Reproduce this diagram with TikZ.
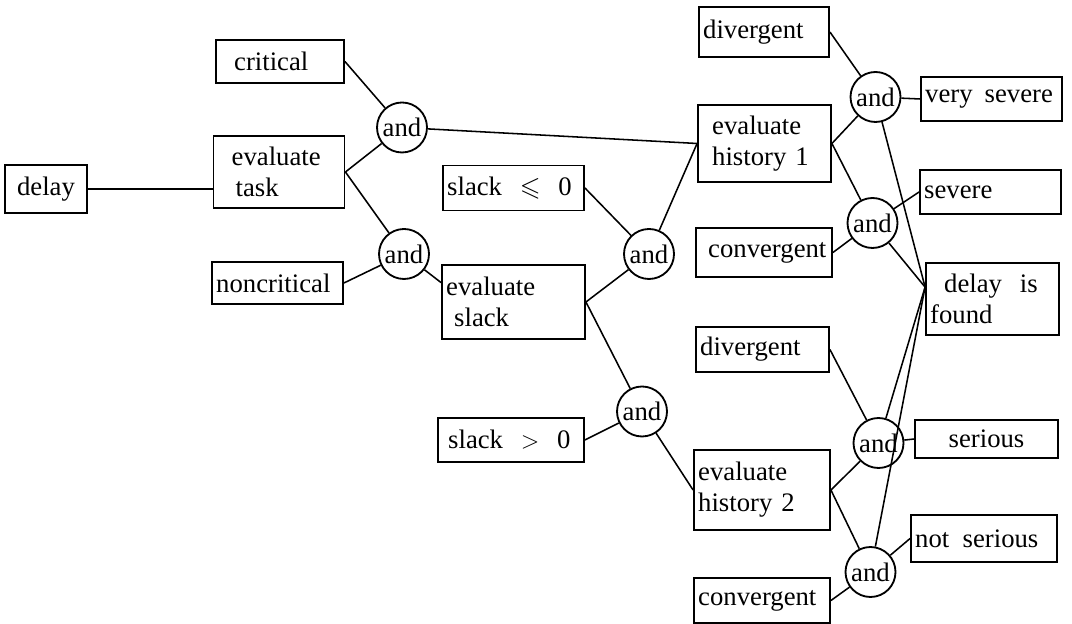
\documentclass[tikz,border=0pt]{standalone}
\usepackage{amssymb}
\usepackage{fontspec}
\setmainfont{Liberation Serif}

\begin{document}
\begin{tikzpicture}[
    font=\fontsize{19}{22}\selectfont,
    box/.style={draw, line width=1.3pt, align=left, inner xsep=3pt, inner ysep=1pt, text width=#1},
    gate/.style={circle, draw, line width=1.3pt, minimum size=1.25cm, inner sep=0pt},
    conn/.style={line width=1.1pt}
]
    \useasboundingbox (0,0) rectangle (26.8,15.6);

    % Task level
    \node[box=1.84cm, align=center, minimum height=1.2cm] (delay) at (1.15,10.875) {delay};
    \node[box=2.99cm, minimum height=1.075cm] (critical) at (7.0,14.0625) {\hspace*{.35cm}critical};
    \node[box=3.065cm, minimum height=1.8cm] (task) at (6.975,11.3) {\hspace*{.35cm}evaluate\\\hspace*{.45cm}task};
    \node[box=3.065cm, minimum height=1.05cm] (noncrit) at (6.9375,8.525) {noncritical};
    \node[gate] (and1) at (10.05,12.4125) {and};
    \node[gate] (and2) at (10.1,9.25) {and};

    % Slack level
    \node[box=3.315cm, minimum height=1.125cm] (slackle) at (12.8375,10.9) {slack \ $\leqslant$ \ 0};
    \node[box=3.365cm, minimum height=1.85cm] (slack) at (12.8375,8.05) {evaluate\\\hspace*{.2cm}slack};
    \node[box=3.44cm, minimum height=1.1cm] (slackgt) at (12.775,4.6) {\hspace*{.15cm}slack \ $>$ \ 0};
    \node[gate] (and3) at (16.225,9.25) {and};
    \node[gate] (and4) at (16.05,5.3125) {and};

    % History level
    \node[box=3.04cm, minimum height=1.25cm] (div1) at (19.1,14.8) {divergent};
    \node[box=3.115cm, minimum height=1.925cm] (hist1) at (19.1125,12.0125) {\hspace*{.25cm}evaluate\\\hspace*{.25cm}history 1};
    \node[box=3.19cm, minimum height=1.225cm] (conv1) at (19.1,9.2875) {\hspace*{.2cm}convergent};
    \node[box=3.115cm, minimum height=1.125cm] (div2) at (19.0625,6.8625) {divergent};
    \node[box=3.19cm, minimum height=2.0cm] (hist2) at (19.05,3.35) {evaluate\\history 2};
    \node[box=3.19cm, minimum height=1.125cm] (conv2) at (19.05,0.5875) {convergent};
    \node[gate] (and5) at (21.8875,13.175) {and};
    \node[gate] (and6) at (21.8125,10.025) {and};
    \node[gate] (and7) at (21.9625,4.525) {and};
    \node[gate] (and8) at (21.7625,1.3) {and};

    % Results
    \node[box=3.315cm, minimum height=1.1cm] (vsevere) at (24.7875,13.125) {\mbox{very\hspace{.45em}severe}};
    \node[box=3.315cm, minimum height=1.1cm] (severe) at (24.7625,10.8) {severe};
    \node[box=3.115cm, minimum height=1.8cm] (found) at (24.8125,8.125) {\hspace*{.35cm}delay \ is\\found};
    \node[box=3.365cm, align=center, minimum height=0.95cm] (serious) at (24.6625,4.625) {serious};
    \node[box=3.44cm, minimum height=1.175cm] (notser) at (24.6,2.1375) {\mbox{not\hspace{.5em}serious}};

    % Connections
    \draw[conn] (delay.east) -- (delay.east -| task.west);
    \draw[conn] (and2) -- (slack.165);
    \foreach \a/\b in {critical.east/and1, task.east/and1, task.east/and2, noncrit.east/and2,
                       and1/hist1.west, slackle.east/and3, slack.east/and3, slack.east/and4,
                       slackgt.east/and4, and3/hist1.west, and4/hist2.west,
                       div1.east/and5, hist1.east/and5, hist1.east/and6, conv1.east/and6,
                       div2.east/and7, hist2.east/and7, hist2.east/and8, conv2.east/and8,
                       and5/vsevere.west, and6/severe.west, and7/serious.west, and8/notser.west}
        \draw[conn] (\a) -- (\b);
    \foreach \g in {and5,and6,and7,and8} \draw[conn] (\g) -- (found.170);
\end{tikzpicture}
\end{document}
